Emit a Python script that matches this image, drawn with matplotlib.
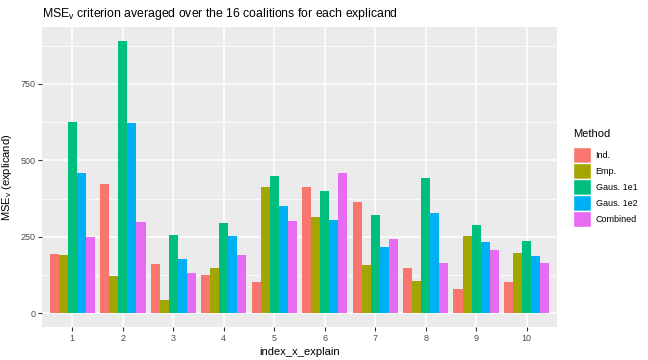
import numpy as np
import matplotlib.pyplot as plt
from matplotlib.patches import Patch

plt.rcParams['font.family'] = ['Liberation Sans', 'DejaVu Sans']

explicands = [1, 2, 3, 4, 5, 6, 7, 8, 9, 10]
methods = ["Ind.", "Emp.", "Gaus. 1e1", "Gaus. 1e2", "Combined"]
colors = ["#F8766D", "#A3A500", "#00BF7D", "#00B0F6", "#E76BF3"]

ind = [194, 423, 161, 126, 102, 413, 364, 148, 80, 102]
emp = [191, 122, 44, 148, 413, 315, 158, 106, 253, 197]
gaus_1e1 = [626, 891, 256, 295, 449, 400, 322, 443, 289, 237]
gaus_1e2 = [459, 622, 178, 253, 351, 305, 217, 328, 233, 188]
combined = [250, 299, 132, 191, 302, 459, 243, 165, 207, 165]
series = [ind, emp, gaus_1e1, gaus_1e2, combined]

fig = plt.figure(figsize=(6.48, 3.6), dpi=100)
ax = fig.add_axes([42 / 648, 33 / 360, 515 / 648, 300 / 360])
ax.set_facecolor("#EBEBEB")

x = np.arange(1, len(explicands) + 1)
w = 0.9 / len(methods)
for i, (vals, col) in enumerate(zip(series, colors)):
    ax.bar(x - 0.45 + w * (i + 0.5), vals, width=w, color=col, zorder=3)

ymax = max(max(s) for s in series)
ax.set_ylim(-0.05 * ymax, 1.05 * ymax)
ax.set_xlim(0.4, 10.6)
ax.set_xticks(x)
ax.set_xticklabels([str(e) for e in explicands])
ax.set_yticks([0, 250, 500, 750])
ax.set_yticks([125, 375, 625, 875], minor=True)
ax.grid(which="major", color="white", linewidth=1.1, zorder=0)
ax.grid(which="minor", axis="y", color="white", linewidth=0.55, zorder=0)
ax.tick_params(which="major", length=2.7, width=0.8, color="#333333",
               labelcolor="#4D4D4D", labelsize=6.5, pad=2)
ax.tick_params(which="minor", length=0)
for sp in ax.spines.values():
    sp.set_visible(False)

ax.set_xlabel("index_x_explain", fontsize=8, labelpad=3)
ax.set_ylabel(r"$\mathregular{MSE_v}$ (explicand)", fontsize=8, labelpad=5)
ax.set_title(r"$\mathregular{MSE_v}$ criterion averaged over the 16 coalitions for each explicand",
             fontsize=8.8, loc="left", pad=7)

handles = [Patch(facecolor=c, edgecolor="white", linewidth=1) for c in colors]
leg = fig.legend(handles, methods, title="Method", loc="upper left",
                 bbox_to_anchor=(573 / 648, 1 - 129 / 360), frameon=False,
                 fontsize=6.5, title_fontsize=8, handlelength=2.0,
                 handleheight=2.35, labelspacing=0.0, handletextpad=0.5,
                 borderaxespad=0, borderpad=0)
leg._legend_box.align = "left"
leg._legend_box.sep = 6

fig.savefig("out.png", dpi=100)
